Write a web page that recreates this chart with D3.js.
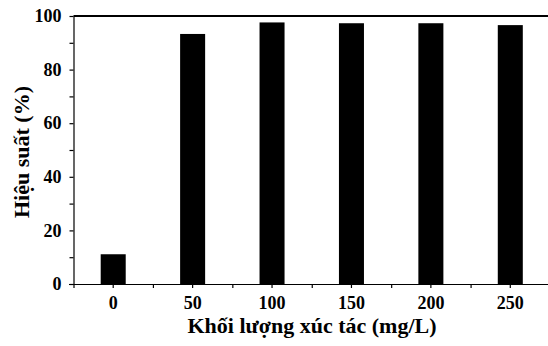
<!DOCTYPE html>
<html>
<head>
<meta charset="utf-8">
<script src="https://cdn.jsdelivr.net/npm/d3@7"></script>
<style>
  body { margin: 0; background: #fff; }
</style>
</head>
<body>
<div class="canvas"></div>
<script>
// data
const loads = ['0', '50', '100', '150', '200', '250'];
const efficiency = [11.1, 93.3, 97.6, 97.3, 97.3, 96.6];
const yTicks = [0, 10, 20, 30, 40, 50, 60, 70, 80, 90, 100];

const width = 548;
const height = 346;
const font = "'Liberation Serif', 'Times New Roman', Times, serif";

const svg = d3.select('.canvas')
    .append('svg')
        .attr('width', width)
        .attr('height', height);

// plot box
const plotLeft = 73.5, plotRight = 550, plotTop = 16, plotBottom = 284;

const x = d3.scaleBand()
    .domain(loads)
    .range([plotLeft, plotRight])
    .paddingInner(0.685)
    .paddingOuter(0.3425);

// edges of the categories, for the minor ticks
const xEdge = d3.scaleLinear()
    .domain([0, loads.length])
    .range([plotLeft, plotRight]);

const y = d3.scaleLinear()
    .domain([0, 100])
    .range([plotBottom, plotTop]);

// bars
svg.append('g')
    .selectAll('rect')
    .data(efficiency)
    .enter()
    .append('rect')
        .attr('x', (d, i) => x(loads[i]))
        .attr('y', d => y(d))
        .attr('width', x.bandwidth())
        .attr('height', d => y(0) - y(d))
        .attr('fill', '#000');

// top frame line
svg.append('line')
    .attr('x1', plotLeft)
    .attr('x2', width)
    .attr('y1', y(100))
    .attr('y2', y(100))
    .attr('stroke', '#000')
    .attr('stroke-width', 2);

// x axis: ticks at category centres and edges
const xAxis = svg.append('g')
    .attr('transform', `translate(0,${plotBottom})`)
    .call(d3.axisBottom(x).tickSize(4).tickPadding(8).tickSizeOuter(0));

svg.append('g')
    .attr('transform', `translate(0,${plotBottom})`)
    .call(d3.axisBottom(xEdge).ticks(loads.length).tickSize(4).tickFormat('').tickSizeOuter(0))
    .select('.domain').remove();

xAxis.select('.domain').attr('d', `M69,0.5H${width}`);

// y axis
const yAxis = svg.append('g')
    .attr('transform', `translate(${plotLeft},0)`)
    .call(d3.axisLeft(y)
        .tickValues(yTicks)
        .tickSize(4)
        .tickPadding(8)
        .tickSizeOuter(0)
        .tickFormat(d => d % 20 === 0 ? d : ''));

svg.selectAll('.tick text')
    .attr('font-family', font)
    .attr('font-weight', 'bold')
    .attr('font-size', 18)
    .attr('fill', '#000');

svg.selectAll('.domain, .tick line').attr('stroke', '#000').attr('stroke-width', 1.2);

// axis titles
svg.append('text')
    .attr('x', 312)
    .attr('y', 333)
    .attr('text-anchor', 'middle')
    .attr('font-family', font)
    .attr('font-weight', 'bold')
    .attr('font-size', 22)
    .text('Khối lượng xúc tác (mg/L)');

svg.append('text')
    .attr('transform', 'translate(29,152) rotate(-90)')
    .attr('text-anchor', 'middle')
    .attr('font-family', font)
    .attr('font-weight', 'bold')
    .attr('font-size', 22)
    .text('Hiệu suất (%)');
</script>
</body>
</html>
